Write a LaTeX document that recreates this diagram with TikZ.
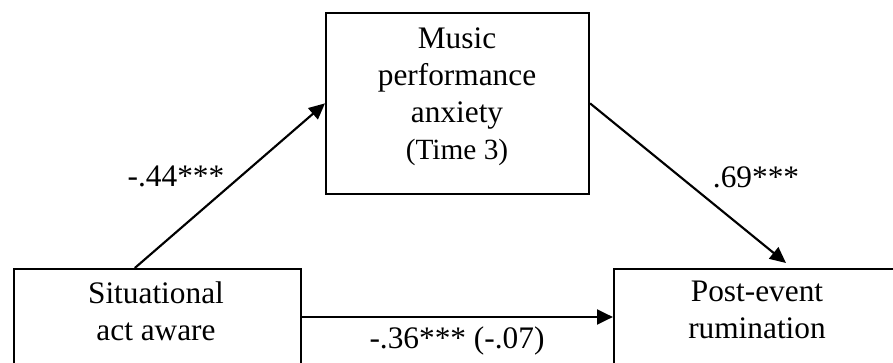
\documentclass[tikz,border=0pt]{standalone}
\usepackage{fontspec}
\setmainfont{Liberation Serif}
\usetikzlibrary{arrows.meta,calc}

\begin{document}
\begin{tikzpicture}[
  x=0.75pt, y=-0.75pt,
  box/.style={draw, line width=1.5pt, rectangle, inner sep=0pt, anchor=north west},
  boxtext/.style={align=center, inner sep=0pt, font=\fontsize{23.5}{27.75}\selectfont},
  coef/.style={inner sep=0pt, font=\fontsize{23.5}{27.75}\selectfont},
  arr/.style={line width=1.6pt, -{Triangle[length=12pt,width=11pt]}},
  harr/.style={line width=2.2pt, -{Triangle[length=12pt,width=11pt]}}
]
  % page frame
  \fill[white] (0,0) rectangle (893,363);
  \useasboundingbox (0,0) rectangle (893,363);
  \clip (0,0) rectangle (893,363);

  % boxes (the two lower ones run past the page edge)
  \node[box, minimum width=215.6pt, minimum height=90pt] (sit) at (12.5,268) {};
  \node[box, minimum width=197.3pt, minimum height=136pt] (mpa) at (325,11.7) {};
  \node[box, minimum width=225pt, minimum height=90pt] (pe) at (613,268) {};

  % box texts
  \node[boxtext] (sittext) at (156,311) {Situational\\act aware};
  \node[boxtext] (mpatext) at (457,97) {Music\\performance\\anxiety\\{\fontsize{22}{26}\selectfont(Time 3)}};
  \node[boxtext] (petext) at (757,310) {Post-event\\rumination};

  % paths
  \draw[arr] ($(sit.north west)!0.4226!(sit.north east)$) -- (mpa.west);
  \draw[arr] (mpa.east) -- ($(pe.north west)+(173,-5)$);
  \draw[harr] ($(sit.north east)+(0,49)$) -- ($(pe.north west)+(0,49)$);

  % coefficients
  \node[coef] (a) at (176,176) {-.44***};
  \node[coef] (b) at (756,177) {.69***};
  \node[coef] (c) at (457,341) {-.36*** (-.07)};
\end{tikzpicture}
\end{document}
